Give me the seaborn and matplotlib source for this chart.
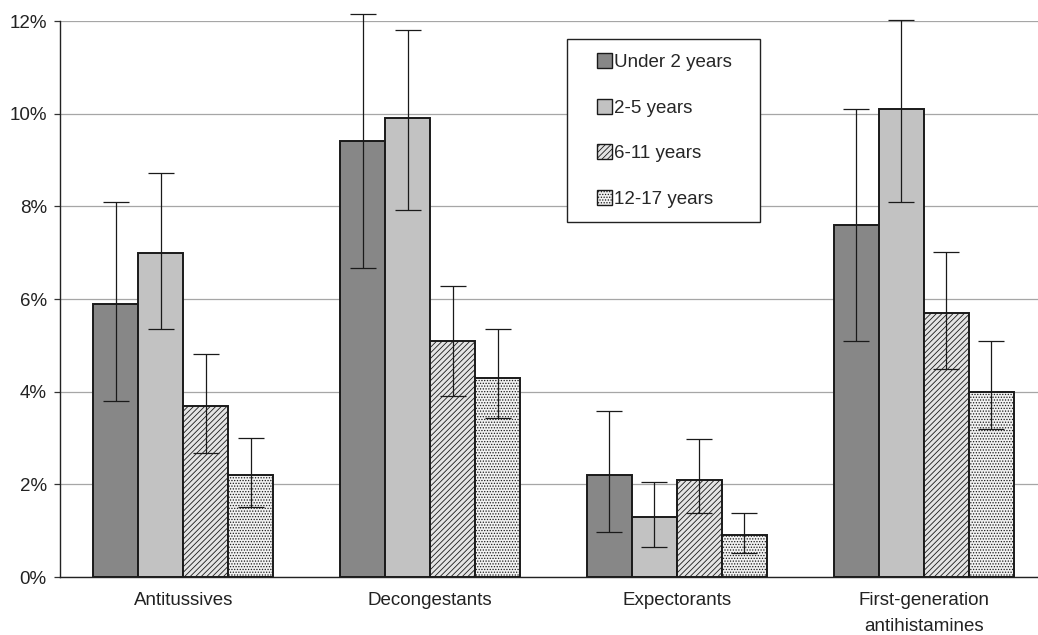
import matplotlib
matplotlib.use("Agg")
import matplotlib.pyplot as plt
from matplotlib.patches import Patch, Rectangle
from matplotlib.legend_handler import HandlerPatch
from matplotlib.ticker import FuncFormatter
import seaborn as sns
import pandas as pd
import numpy as np

# Drug classes and age groups
categories = ["Antitussives", "Decongestants", "Expectorants",
              "First-generation\nantihistamines"]
age_groups = ["Under 2 years", "2-5 years", "6-11 years", "12-17 years"]

# Percent of children using each class, with 95% CI bounds
under2 = [5.9, 9.4, 2.2, 7.6]
under2_lo = [3.8, 6.67, 0.97, 5.1]
under2_hi = [8.1, 12.15, 3.58, 10.1]

age2_5 = [7.0, 9.9, 1.3, 10.1]
age2_5_lo = [5.35, 7.92, 0.64, 8.09]
age2_5_hi = [8.72, 11.81, 2.05, 12.02]

age6_11 = [3.7, 5.1, 2.1, 5.7]
age6_11_lo = [2.68, 3.9, 1.38, 4.49]
age6_11_hi = [4.81, 6.28, 2.98, 7.01]

age12_17 = [2.2, 4.3, 0.9, 4.0]
age12_17_lo = [1.52, 3.43, 0.52, 3.19]
age12_17_hi = [3.0, 5.35, 1.38, 5.1]

values = [under2, age2_5, age6_11, age12_17]
lows = [under2_lo, age2_5_lo, age6_11_lo, age12_17_lo]
highs = [under2_hi, age2_5_hi, age6_11_hi, age12_17_hi]

df = pd.DataFrame({
    "category": [c for _ in age_groups for c in categories],
    "age": [a for a in age_groups for _ in categories],
    "pct": [v for series in values for v in series],
})

sns.set_style("white")
plt.rcParams["font.family"] = ["Liberation Sans", "DejaVu Sans"]
plt.rcParams["hatch.linewidth"] = 0.6

FS = 13.5

fig = plt.figure(figsize=(10.38, 6.35), dpi=100)
ax = fig.add_axes([60 / 1038, 1 - 577 / 635, 987 / 1038, 556 / 635])

faces = ["#878787", "#c2c2c2", "#e4e4e4", "#f2f2f2"]
hatches = ["", "", "//////", "......"]

sns.barplot(data=df, x="category", y="pct", hue="age", order=categories,
            hue_order=age_groups, palette=dict(zip(age_groups, faces)),
            width=0.73, errorbar=None, legend=False, ax=ax,
            edgecolor="#1a1a1a", linewidth=1.4, saturation=1)

for container, hatch, vals, lo, hi in zip(ax.containers, hatches, values, lows, highs):
    xs = []
    for bar in container:
        bar.set_hatch(hatch)
        xs.append(bar.get_x() + bar.get_width() / 2)
    vals = np.array(vals)
    yerr = [vals - np.array(lo), np.array(hi) - vals]
    eb = ax.errorbar(xs, vals, yerr=yerr, fmt="none", ecolor="#1a1a1a",
                     elinewidth=0.9, capsize=9.5, capthick=0.9, zorder=5)
    for art in eb.lines[1] + eb.lines[2]:
        art.set_clip_on(False)

ax.set_xlim(-0.5, 3.5)
ax.set_ylim(0, 12)
ax.set_yticks(range(0, 13, 2))
ax.yaxis.set_major_formatter(FuncFormatter(lambda v, _: f"{v:.0f}%"))
ax.grid(axis="y", color="#a6a6a6", linewidth=0.9)
ax.set_axisbelow(True)

ax.set_xticks(range(len(categories)))
ax.set_xticklabels(categories, linespacing=1.65)
ax.set_xticks([0.5, 1.5, 2.5], minor=True)
ax.tick_params(axis="x", which="major", length=0, pad=11, labelsize=FS,
               labelcolor="#222222")
ax.tick_params(axis="x", which="minor", length=4, width=0.9, color="#333333",
               direction="out")
ax.tick_params(axis="y", length=4.5, width=0.9, color="#333333", pad=5,
               labelsize=FS, labelcolor="#222222", direction="out", left=True)

ax.set_xlabel("")
ax.set_ylabel("")
sns.despine(ax=ax, top=True, right=True)
for side in ("left", "bottom"):
    ax.spines[side].set_color("#222222")
    ax.spines[side].set_linewidth(1.0)


def square_key(legend, orig_handle, xdescent, ydescent, width, height, fontsize):
    s = 0.8 * fontsize
    return Rectangle((-xdescent + width - s, -ydescent + (height - s) / 2), s, s)


handles = [Patch(facecolor=f, edgecolor="#1a1a1a", hatch=h, linewidth=1.0)
           for f, h in zip(faces, hatches)]
x0 = (567 - 60) / 987
y1 = (577 - 39) / 556
y0 = (577 - 218) / 556
leg = ax.legend(handles, age_groups, loc="upper left",
                bbox_to_anchor=(x0, y0, 193 / 987, y1 - y0), mode="expand",
                borderaxespad=0, fontsize=FS, frameon=True, fancybox=False,
                handler_map={Patch: HandlerPatch(patch_func=square_key)},
                handlelength=1.65, handleheight=0.8, handletextpad=0.1,
                labelspacing=1.5, borderpad=0.75)
leg.get_frame().set_edgecolor("#222222")
leg.get_frame().set_linewidth(1.0)
leg.get_frame().set_facecolor("white")
leg.get_frame().set_alpha(1)

fig.savefig("out.png", dpi=100)
